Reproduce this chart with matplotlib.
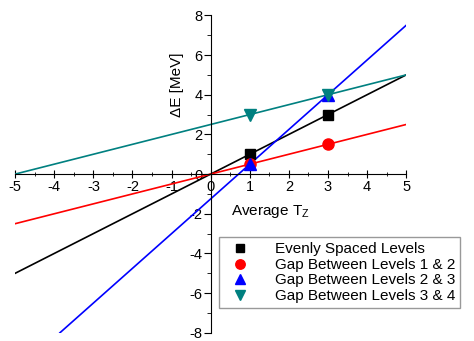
import numpy as np
import matplotlib.pyplot as plt
from matplotlib.ticker import MultipleLocator

plt.rcParams['font.family'] = ['Liberation Sans', 'DejaVu Sans']
plt.rcParams['axes.unicode_minus'] = False

# data points (Average Tz, Delta E)
tz = [1, 3]
even_pts = [1.0, 3.0]
gap12_pts = [0.5, 1.5]
gap23_pts = [0.5, 4.0]
gap34_pts = [3.0, 4.0]

# fitted lines: x range and end values
even_x = [-5, 5]
even_y = [-5, 5]
gap12_x = [-5, 5]
gap12_y = [-2.5, 2.5]
gap23_x = [-3.857, 5]
gap23_y = [-8.0, 7.5]
gap34_x = [-5, 5]
gap34_y = [0.0, 5.0]

fig = plt.figure(figsize=(4.74, 3.41), dpi=100)
ax = fig.add_axes([0.032, 0.024, 0.825, 0.931])

ax.plot(even_x, even_y, color='black', lw=1.2)
ax.plot(gap12_x, gap12_y, color='red', lw=1.2)
ax.plot(gap23_x, gap23_y, color='blue', lw=1.2)
ax.plot(gap34_x, gap34_y, color='#008080', lw=1.2)

ax.plot(tz, even_pts, 's', color='black', ms=7, label='Evenly Spaced Levels')
ax.plot(tz, gap12_pts, 'o', color='red', ms=8, label='Gap Between Levels 1 & 2')
ax.plot(tz, gap23_pts, '^', color='blue', ms=8, label='Gap Between Levels 2 & 3')
ax.plot(tz, gap34_pts, 'v', color='#008080', ms=8, label='Gap Between Levels 3 & 4')

ax.set_xlim(-5, 5)
ax.set_ylim(-8, 8)
ax.spines['left'].set_position(('data', 0))
ax.spines['bottom'].set_position(('data', 0))
ax.spines['right'].set_visible(False)
ax.spines['top'].set_visible(False)

ax.xaxis.set_major_locator(MultipleLocator(1))
ax.xaxis.set_minor_locator(MultipleLocator(0.5))
ax.yaxis.set_major_locator(MultipleLocator(2))
ax.yaxis.set_minor_locator(MultipleLocator(1))
ax.tick_params(axis='x', which='major', direction='inout', length=6, labelsize=10.5, pad=1)
ax.tick_params(axis='x', which='minor', direction='inout', length=3)
ax.tick_params(axis='y', which='major', direction='out', length=5, labelsize=10.5, pad=1)
ax.tick_params(axis='y', which='minor', direction='out', length=3)

ax.text(1.53, -1.87, 'Average T$_\\mathregular{Z}$', fontsize=11, ha='center', va='center')
ax.text(-0.87, 4.5, '\u0394E [MeV]', fontsize=11, rotation=90, ha='center', va='center')

leg = ax.legend(loc='lower right', bbox_to_anchor=(1.158, 0.053), fontsize=11,
                frameon=True, fancybox=False, edgecolor='#808080',
                handletextpad=1.3, borderpad=0.35, labelspacing=0.1, markerscale=0.85)
leg.get_frame().set_linewidth(1.0)

fig.savefig('out.png', dpi=100)
